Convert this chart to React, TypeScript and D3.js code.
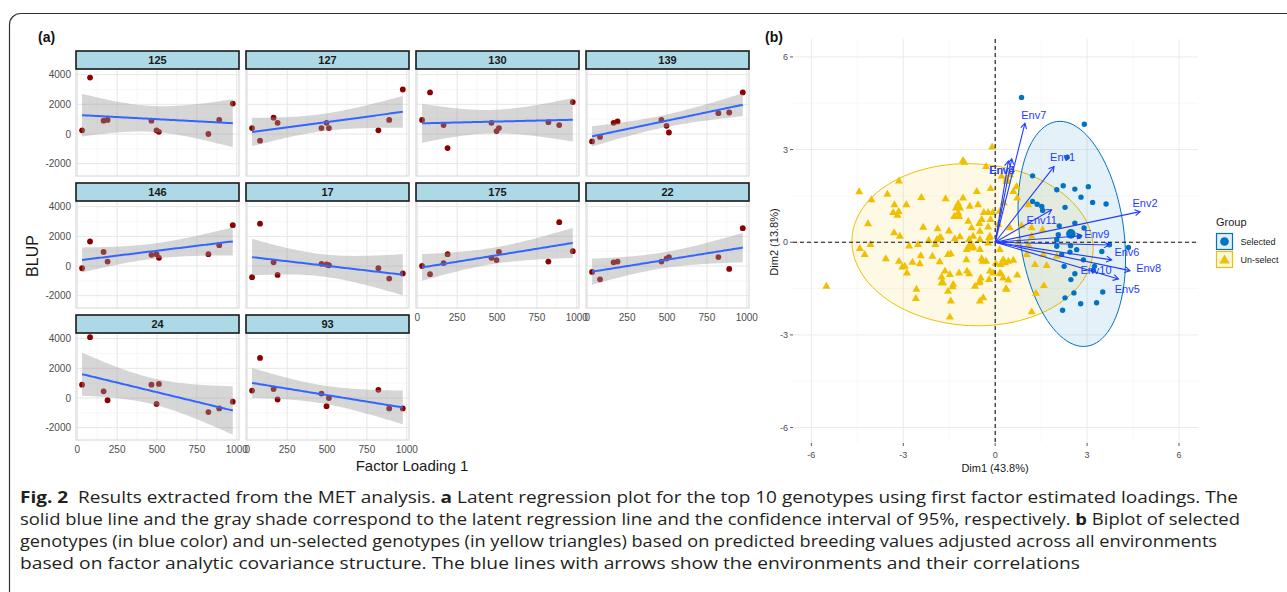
import React from 'react';
import * as d3 from 'd3';

// ---------- panel (a): latent regression, BLUP vs factor loading ----------
const genotypes = ['125', '127', '130', '139', '146', '17', '175', '22', '24', '93'];
const loadings = [30, 80, 165, 190, 465, 497, 512, 822, 890, 975];
const blup125 = [250, 3800, 900, 950, 900, 250, 150, 0, 950, 2050];
const blup127 = [400, -450, 1100, 750, 400, 750, 400, 250, 950, 3000];
const blup130 = [950, 2800, 600, -950, 750, 200, 400, 800, 600, 2150];
const blup139 = [-500, -200, 750, 850, 950, 550, 100, 1400, 1450, 2800];
const blup146 = [-150, 1650, 950, 300, 750, 800, 550, 800, 1400, 2750];
const blup17 = [-750, 2850, 250, -600, 150, 100, 50, -150, -850, -500];
const blup175 = [0, -550, 200, 800, 550, 400, 950, 300, 2950, 1000];
const blup22 = [-400, -900, 250, 300, 300, 500, 600, 600, -200, 2550];
const blup24 = [900, 4100, 450, -150, 900, -400, 950, -950, -700, -250];
const blup93 = [500, 2700, 600, -100, 300, -550, 0, 550, -700, -700];
const blupByGenotype = [blup125, blup127, blup130, blup139, blup146, blup17, blup175, blup22, blup24, blup93];
const loadingTicks = [0, 250, 500, 750, 1000];
const loadingMinor = [125, 375, 625, 875];
const blupTicks = [-2000, 0, 2000, 4000];
const blupMinor = [-1000, 1000, 3000];

// ---------- panel (b): biplot ----------
const selDim1 = [0.86, 2.91, 2.35, 1.22, 2.01, 2.22, 2.6, 3.04, 2.8, 3.18, 3.62, 1.22, 1.37, 1.52, 1.55, 2.28, 2.6, 2.9, 2.09, 2.74, 2.06, 2.01, 2.01, 2.66, 2.44, 2.17, 2.46, 3.48, 3.73, 4.35, 2.88, 2.6, 3.24, 2.47, 3.51, 2.57, 2.28, 2.79, 3.31, 2.2, 2.25, 3.2];
const selDim2 = [4.69, 3.82, 2.75, 2.15, 1.7, 1.83, 1.72, 1.8, 1.46, 1.29, 1.24, 1.32, 1.23, 1.16, 1.03, 1.13, 0.62, 0.46, 0.53, 0.19, 0.24, 0.08, -0.13, -0.24, -0.32, -0.4, -0.11, -0.3, -0.08, -0.17, -0.57, -1.02, -0.78, -1.21, -1.61, -1.64, -1.8, -1.99, -1.96, -2.2, -0.78, -0.91];
const unselDim1 = [-0.1, -1.01, -0.3, -4.44, -4.04, -3.52, -3.14, -2.41, -3.29, -2.9, -3.33, -3.15, -3.19, -4.15, -3.3, -2.35, -1.62, -0.6, -0.15, -1.21, -1.28, -1.15, -1.34, -1.18, -0.88, -0.77, -0.44, -0.37, -0.23, -0.08, -0.52, -0.15, -1.88, -1.51, -1.77, -2.17, -1.9, -1.32, -1.15, -0.85, -0.72, -0.5, -0.2, -3.11, -4.07, -4.42, -4.26, -3.57, -3.14, -3.03, -2.88, -2.7, -2.46, -2.43, -2.81, -2.52, -2.05, -1.81, -1.95, -1.81, -1.54, -1.45, -1.64, -1.48, -1.18, -0.92, -0.85, -1.75, -1.39, -1.54, -2.59, -1.45, -1.48, -0.5, -0.39, -0.66, -0.5, -0.47, -0.2, -0.07, -0.17, 0.15, 0.35, 0.43, -0.41, -0.3, -0.44, 0.02, 0.18, 0.32, 0.59, 0.72, -0.93, -0.72, -0.5, -0.85, -0.17, -0.23, -5.51, -1.05, -0.83, -0.56, -1.21, -0.5, -0.23, 0.59, 0.72, 1.08, 0.37, 0.48, 0.7, 0.28, 0.15, 0.1, 0.48, 0.86, 1.19, 1.55, 1.19, 0.75, 1.08, 0.15, 0.26, 0.43, 0.19, 0.26, 0.37, -0.52, -1.37, -1.7, 1.19, 1.33, 1.59, 1.3, 1.57, 2.01, 1.03, 1.68, -2.95, -2.57, -1.75, -0.94, -0.77, 0.21, 0.37, -1.05];
const unselDim2 = [3.08, 2.58, 2.45, 1.63, 1.37, 1.55, 1.98, 1.44, 1.21, 1.21, 0.96, 0.99, 0.87, 0.59, 0.3, 0.48, 1.4, 1.64, 1.73, 1.24, 1.1, 1.1, 0.83, 0.83, 0.67, 0.46, 0.73, 0.96, 0.96, 0.96, 0.6, 0.73, 0.43, 0.36, 0.14, 0.05, 0.08, 0.11, 0.17, 0.08, 0.19, 0.08, 0.14, 0.19, -0.08, -0.21, -0.4, -0.54, -0.62, -0.81, -1.0, -0.65, -0.7, -0.44, -0.13, -0.08, -0.46, -0.64, -0.08, 0.14, -0.4, -0.38, -0.94, -1.05, -1.0, -0.94, -1.03, -1.32, -1.45, -1.59, -1.83, -1.91, -2.43, -1.91, -1.8, -1.43, -1.27, -1.16, -1.21, -1.0, -0.94, -1.02, -1.51, -1.23, -0.62, -0.62, -0.54, -0.69, -0.73, -0.67, -0.59, -1.07, -0.24, -0.16, -0.24, -0.13, 0.19, -0.03, -1.43, 1.43, 1.16, 1.21, 0.94, 0.35, 0.49, 1.64, 1.43, 1.21, 2.04, 2.18, 1.8, 1.27, 1.0, 0.57, 0.46, 0.53, 0.46, 0.4, 0.19, -0.01, -0.08, -0.24, -0.57, -0.62, -1.03, -1.16, -1.53, -1.32, -1.37, -1.32, -2.26, -1.66, -1.41, -0.73, -0.4, -0.46, -0.4, -0.76, -0.78, -1.53, -1.13, -0.57, -0.19, 2.13, 1.96, 2.64];
const groupNames = ['Selected', 'Un-select'];
const groupMeanDim1 = [2.47, -0.8];
const groupMeanDim2 = [0.27, -0.12];
const ellipseDim1 = [2.5, -0.74];
const ellipseDim2 = [0.27, -0.08];
const ellipseMajor = [3.67, 3.94];
const ellipseMinor = [1.7, 2.62];
const ellipseAngle = [-82.3, -2.9];
const envNames = ['Env1', 'Env2', 'Env3', 'Env4', 'Env5', 'Env6', 'Env7', 'Env8', 'Env9', 'Env10', 'Env11'];
const envDim1 = [1.92, 4.73, 0.54, 0.43, 4.02, 3.72, 0.97, 4.4, 2.83, 3.8, 1.84];
const envDim2 = [2.45, 0.99, 2.7, 2.63, -1.19, -0.09, 3.85, -0.92, 0.21, -0.57, 1.05];
const envLabelDim1 = [2.2, 4.89, 0.21, 0.23, 4.31, 4.3, 1.26, 5.01, 3.32, 3.29, 1.52];
const envLabelDim2 = [2.74, 1.28, 2.34, 2.33, -1.53, -0.31, 4.12, -0.83, 0.26, -0.91, 0.73];
const dimTicks = [-6, -3, 0, 3, 6];
const dimMinor = [-4.5, -1.5, 1.5, 4.5];

const captionLines = [
  [['Fig. 2', true], ['  Results extracted from the MET analysis. ', false], ['a', true], [' Latent regression plot for the top 10 genotypes using first factor estimated loadings. The', false]],
  [['solid blue line and the gray shade correspond to the latent regression line and the confidence interval of 95%, respectively. ', false], ['b', true], [' Biplot of selected', false]],
  [['genotypes (in blue color) and un-selected genotypes (in yellow triangles) based on predicted breeding values adjusted across all environments', false]],
  [['based on factor analytic covariance structure. The blue lines with arrows show the environments and their correlations', false]],
] as [string, boolean][][];
const captionWidths = [1218, 1220, 1197, 1060];

const FONT = "'Liberation Sans', Arial, Helvetica, sans-serif";
const SEL = '#0073C2';
const UNSEL = '#EFC000';
const ENV = '#1f3cff';
const T_CRIT = 2.306; // t(0.975, df = 8)

// facet layout
const colLeft = [76, 246, 416, 586];
const stripTop = [51, 183, 315];
const panelW = 163;
const stripH = 18;
const panelH = 107;

const xLoad = d3.scaleLinear().domain([-8, 1014]).range([0, panelW]);
const yBlup = d3.scaleLinear().domain([-2830, 4380]).range([panelH, 0]);

function smoothFit(xs: number[], ys: number[]) {
  const n = xs.length;
  const mx = d3.mean(xs) as number;
  const my = d3.mean(ys) as number;
  const sxx = d3.sum(xs, (x) => (x - mx) ** 2);
  const sxy = d3.sum(xs.map((x, i) => (x - mx) * (ys[i] - my)));
  const b = sxy / sxx;
  const a = my - b * mx;
  const s = Math.sqrt(d3.sum(xs.map((x, i) => (ys[i] - a - b * x) ** 2)) / (n - 2));
  const [x0, x1] = d3.extent(xs) as [number, number];
  return d3.range(81).map((i) => {
    const x = x0 + ((x1 - x0) * i) / 80;
    const yh = a + b * x;
    const se = s * Math.sqrt(1 / n + (x - mx) ** 2 / sxx);
    return { x, y: yh, lo: yh - T_CRIT * se, hi: yh + T_CRIT * se };
  });
}

function Facet({ idx }: { idx: number }) {
  const row = Math.floor(idx / 4);
  const col = idx % 4;
  const left = colLeft[col];
  const top = stripTop[row] + stripH;
  const ys = blupByGenotype[idx];
  const fit = smoothFit(loadings, ys);
  const area = d3.area<any>().x((d) => xLoad(d.x)).y0((d) => yBlup(d.lo)).y1((d) => yBlup(d.hi));
  const line = d3.line<any>().x((d) => xLoad(d.x)).y((d) => yBlup(d.y));
  const showX = idx >= 6;
  const showY = col === 0;
  const clipId = `clip-${idx}`;
  return (
    <g>
      <g transform={`translate(${left},${top})`}>
        <clipPath id={clipId}>
          <rect x={0} y={0} width={panelW} height={panelH} />
        </clipPath>
        <g clipPath={`url(#${clipId})`}>
          {loadingMinor.map((t) => (
            <line key={'vm' + t} x1={xLoad(t)} x2={xLoad(t)} y1={0} y2={panelH} stroke="#f2f2f2" strokeWidth={0.6} />
          ))}
          {blupMinor.map((t) => (
            <line key={'hm' + t} x1={0} x2={panelW} y1={yBlup(t)} y2={yBlup(t)} stroke="#f2f2f2" strokeWidth={0.6} />
          ))}
          {loadingTicks.map((t) => (
            <line key={'v' + t} x1={xLoad(t)} x2={xLoad(t)} y1={0} y2={panelH} stroke="#e6e6e6" strokeWidth={1} />
          ))}
          {blupTicks.map((t) => (
            <line key={'h' + t} x1={0} x2={panelW} y1={yBlup(t)} y2={yBlup(t)} stroke="#e6e6e6" strokeWidth={1} />
          ))}
          {loadings.map((x, i) => (
            <circle key={i} cx={xLoad(x)} cy={yBlup(ys[i])} r={2.9} fill="#8B0000" />
          ))}
          <path d={area(fit) as string} fill="#999999" fillOpacity={0.4} />
          <path d={line(fit) as string} fill="none" stroke="#3366FF" strokeWidth={2} />
        </g>
        <rect x={0} y={0} width={panelW} height={panelH} fill="none" stroke="#d4d4d4" strokeWidth={1} />
        {showY &&
          blupTicks.map((t) => (
            <text key={'yl' + t} x={-5} y={yBlup(t)} dy="0.35em" textAnchor="end" fontSize={10} fill="#4d4d4d" fontFamily={FONT}>
              {t}
            </text>
          ))}
        {showX &&
          loadingTicks.map((t) => (
            <text key={'xl' + t} x={xLoad(t)} y={panelH + 13} textAnchor="middle" fontSize={10} fill="#4d4d4d" fontFamily={FONT}>
              {t}
            </text>
          ))}
      </g>
      <rect x={left} y={stripTop[row]} width={panelW} height={stripH} fill="#ADD8E6" stroke="#1a1a1a" strokeWidth={1.6} />
      <text x={left + panelW / 2} y={stripTop[row] + stripH / 2} dy="0.36em" textAnchor="middle" fontSize={11} fontWeight="bold" fill="#1a1a1a" fontFamily={FONT}>
        {genotypes[idx]}
      </text>
    </g>
  );
}

// biplot scales
const xDim = d3.scaleLinear().domain([-6.6, 6.62]).range([793, 1198]);
const yDim = d3.scaleLinear().domain([-6.5, 6.58]).range([443, 39]);

function ellipsePath(g: number) {
  const th = (ellipseAngle[g] * Math.PI) / 180;
  const pts = d3.range(101).map((i) => {
    const t = (2 * Math.PI * i) / 100;
    const dx = ellipseMajor[g] * Math.cos(t) * Math.cos(th) - ellipseMinor[g] * Math.sin(t) * Math.sin(th);
    const dy = ellipseMajor[g] * Math.cos(t) * Math.sin(th) + ellipseMinor[g] * Math.sin(t) * Math.cos(th);
    return [xDim(ellipseDim1[g] + dx), yDim(ellipseDim2[g] + dy)] as [number, number];
  });
  return d3.line()(pts) + 'Z';
}

const triangle = d3.symbol(d3.symbolTriangle, 28)() as string;
const bigTriangle = d3.symbol(d3.symbolTriangle, 64)() as string;
const keyTriangle = d3.symbol(d3.symbolTriangle, 48)() as string;

function Biplot() {
  const ox = xDim(0);
  const oy = yDim(0);
  return (
    <g fontFamily={FONT}>
      {dimMinor.map((t) => (
        <g key={'m' + t}>
          <line x1={xDim(t)} x2={xDim(t)} y1={39} y2={443} stroke="#f3f3f3" strokeWidth={0.6} />
          <line x1={793} x2={1198} y1={yDim(t)} y2={yDim(t)} stroke="#f3f3f3" strokeWidth={0.6} />
        </g>
      ))}
      {dimTicks.map((t) => (
        <g key={'M' + t}>
          <line x1={xDim(t)} x2={xDim(t)} y1={39} y2={443} stroke="#ebebeb" strokeWidth={1} />
          <line x1={793} x2={1198} y1={yDim(t)} y2={yDim(t)} stroke="#ebebeb" strokeWidth={1} />
          <line x1={xDim(t)} x2={xDim(t)} y1={443} y2={446} stroke="#333" strokeWidth={0.8} />
          <line x1={790} x2={793} y1={yDim(t)} y2={yDim(t)} stroke="#333" strokeWidth={0.8} />
          <text x={xDim(t)} y={458} textAnchor="middle" fontSize={9} fill="#4d4d4d">{t}</text>
          <text x={788} y={yDim(t)} dy="0.35em" textAnchor="end" fontSize={9} fill="#4d4d4d">{t}</text>
        </g>
      ))}
      <path d={ellipsePath(1)} fill={UNSEL} fillOpacity={0.1} stroke={UNSEL} strokeWidth={1} />
      <path d={ellipsePath(0)} fill={SEL} fillOpacity={0.1} stroke={SEL} strokeWidth={1} />
      {unselDim1.map((x, i) => (
        <path key={'u' + i} d={triangle} transform={`translate(${xDim(x)},${yDim(unselDim2[i])})`} fill={UNSEL} />
      ))}
      {selDim1.map((x, i) => (
        <circle key={'s' + i} cx={xDim(x)} cy={yDim(selDim2[i])} r={2.7} fill={SEL} />
      ))}
      <circle cx={xDim(groupMeanDim1[0])} cy={yDim(groupMeanDim2[0])} r={4.8} fill={SEL} />
      <path d={bigTriangle} transform={`translate(${xDim(groupMeanDim1[1])},${yDim(groupMeanDim2[1])})`} fill={UNSEL} />
      <line x1={ox} x2={ox} y1={39} y2={443} stroke="#111" strokeWidth={1.1} strokeDasharray="4 3" />
      <line x1={793} x2={1198} y1={oy} y2={oy} stroke="#111" strokeWidth={1.1} strokeDasharray="4 3" />
      {envNames.map((name, i) => {
        const tx = xDim(envDim1[i]);
        const ty = yDim(envDim2[i]);
        const ang = Math.atan2(ty - oy, tx - ox);
        const hl = 6;
        const a1 = ang + Math.PI - Math.PI / 6;
        const a2 = ang + Math.PI + Math.PI / 6;
        return (
          <g key={name}>
            <line x1={ox} y1={oy} x2={tx} y2={ty} stroke={ENV} strokeWidth={1.1} />
            <path
              d={`M${tx + hl * Math.cos(a1)},${ty + hl * Math.sin(a1)}L${tx},${ty}L${tx + hl * Math.cos(a2)},${ty + hl * Math.sin(a2)}`}
              fill="none"
              stroke={ENV}
              strokeWidth={1.1}
            />
            <text x={xDim(envLabelDim1[i])} y={yDim(envLabelDim2[i])} dy="0.35em" textAnchor="middle" fontSize={11} fill={ENV}>
              {name}
            </text>
          </g>
        );
      })}
      <text x={995} y={472} textAnchor="middle" fontSize={11} fill="#1a1a1a">Dim1 (43.8%)</text>
      <text transform="translate(778,242) rotate(-90)" textAnchor="middle" fontSize={11} fill="#1a1a1a">Dim2 (13.8%)</text>
      <text x={1216} y={226} fontSize={11} fill="#1a1a1a">Group</text>
      {groupNames.map((g, i) => (
        <g key={g} transform={`translate(1216.5,${233.5 + i * 18})`}>
          <rect width={16} height={16} fill={i === 0 ? SEL : UNSEL} fillOpacity={0.12} stroke={i === 0 ? SEL : UNSEL} strokeWidth={1.2} />
          {i === 0 ? (
            <circle cx={8} cy={8} r={4.3} fill={SEL} />
          ) : (
            <path d={keyTriangle} transform="translate(8,9)" fill={UNSEL} />
          )}
          <text x={24} y={8} dy="0.35em" fontSize={9} fill="#1a1a1a">{g}</text>
        </g>
      ))}
    </g>
  );
}

export default function App() {
  return (
    <svg width={1287} height={592} style={{ position: 'absolute', left: 0, top: 0, background: '#fff' }}>
      <rect x={9.5} y={13.5} width={1320} height={620} rx={11} fill="none" stroke="#333" strokeWidth={1.2} />
      <text x={38} y={42} fontSize={14} fontWeight="bold" fontFamily={FONT} fill="#111">(a)</text>
      <text x={765} y={42} fontSize={14} fontWeight="bold" fontFamily={FONT} fill="#111">(b)</text>
      {genotypes.map((_, i) => (
        <Facet key={i} idx={i} />
      ))}
      <text transform="translate(38,256) rotate(-90)" textAnchor="middle" fontSize={16} fontFamily={FONT} fill="#1a1a1a">BLUP</text>
      <text x={412} y={471} textAnchor="middle" fontSize={15} fontFamily={FONT} fill="#1a1a1a">Factor Loading 1</text>
      <Biplot />
      {captionLines.map((segs, li) => (
        <text
          key={li}
          x={20}
          y={503 + li * 22}
          fontSize={16.5}
          fontFamily="'Liberation Sans Narrow', 'Open Sans', 'Noto Sans', sans-serif"
          fill="#231f20"
          textLength={captionWidths[li]}
          lengthAdjust="spacingAndGlyphs"
          style={{ whiteSpace: 'pre' }}
        >
          {segs.map(([s, b], k) => (
            <tspan key={k} fontWeight={b ? 'bold' : 'normal'}>{s}</tspan>
          ))}
        </text>
      ))}
    </svg>
  );
}
